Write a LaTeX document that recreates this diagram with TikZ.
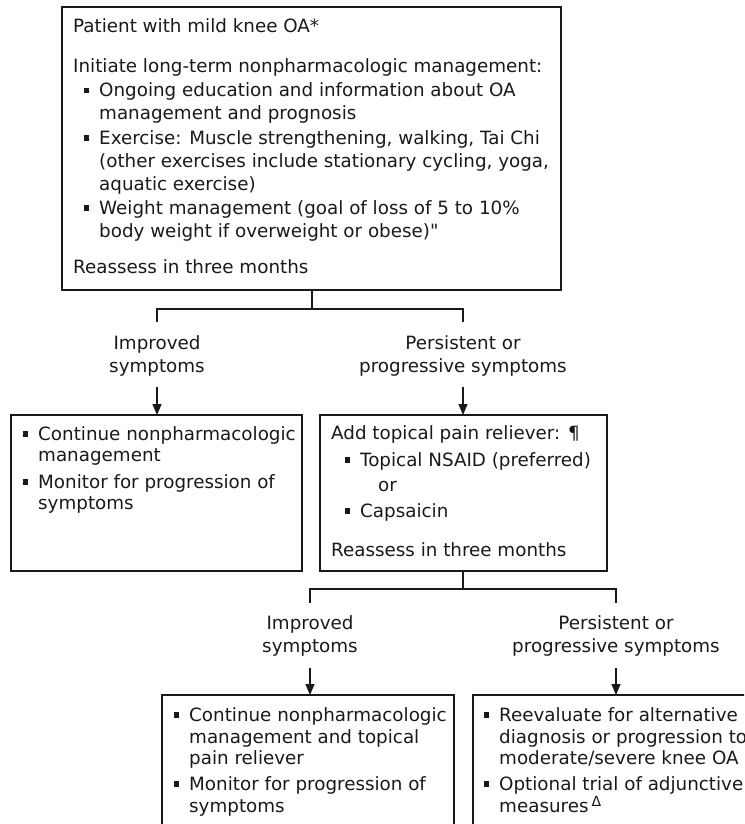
\documentclass[tikz,border=0pt]{standalone}
\usepackage{fontspec}
\setmainfont{DejaVu Sans}[Ligatures=TeXOff]
\usetikzlibrary{arrows.meta}
\newcommand\bul{\llap{\rule[3.5pt]{5.5pt}{5.5pt}\hspace{10pt}}}
\begin{document}
\begin{tikzpicture}[x=1pt,y=-1pt,
  box/.style={draw=black!90, line width=1.3pt, inner sep=0pt, outer sep=0pt, anchor=north west},
  txt/.style={anchor=base west, inner sep=0pt, text=black!90, font=\fontsize{18.3}{22}\selectfont},
  lbl/.style={anchor=base, inner sep=0pt, text=black!90, font=\fontsize{18.3}{22}\selectfont},
  link/.style={draw=black!90, line width=1.3pt},
  arr/.style={draw=black!90, line width=1.3pt, -{Triangle[length=11pt,width=9pt]}}]
\useasboundingbox (0,0) rectangle (744,824);
\clip (0,0) rectangle (744,824);

% boxes
\node[box, minimum width=499pt, minimum height=283pt] (b1) at (62,7) {};
\node[box, minimum width=291pt, minimum height=156pt] (b2) at (11,415) {};
\node[box, minimum width=287pt, minimum height=156pt] (b3) at (320,415) {};
\node[box, minimum width=292pt, minimum height=160pt] (b4) at (162,695) {};
\node[box, minimum width=286pt, minimum height=160pt] (b5) at (473,695) {};

% top box text
\node[txt] (t1) at (73,33) {Patient with mild knee OA*};
\node[txt] (t2) at (73,73) {Initiate long-term nonpharmacologic management:};
\node[txt] (t3) at (99,97) {\bul Ongoing education and information about OA};
\node[txt] (t4) at (99,120) {management and prognosis};
\node[txt] (t5) at (99,144) {\bul Exercise: Muscle strengthening, walking, Tai Chi};
\node[txt] (t6) at (99,167) {(other exercises include stationary cycling, yoga,};
\node[txt] (t7) at (99,190) {aquatic exercise)};
\node[txt] (t8) at (99,214) {\bul Weight management (goal of loss of 5 to 10\%};
\node[txt] (t9) at (99,237) {body weight if overweight or obese)"};
\node[txt] (t10) at (73,273) {Reassess in three months};

% first branch labels
\node[lbl] (i1a) at (157,349) {Improved};
\node[lbl] (i1b) at (157,372) {symptoms};
\node[lbl] (p1a) at (463,349) {Persistent or};
\node[lbl] (p1b) at (463,372) {progressive symptoms};

% left box text
\node[txt] (u1) at (38,440) {\bul Continue nonpharmacologic};
\node[txt] (u2) at (38,461) {management};
\node[txt] (u3) at (38,488) {\bul Monitor for progression of};
\node[txt] (u4) at (38,509) {symptoms};

% middle box text
\node[txt] (m1) at (331,439) {Add topical pain reliever: ¶};
\node[txt] (m2) at (360,466) {\bul Topical NSAID (preferred)};
\node[txt] (m3) at (378,491) {or};
\node[txt] (m4) at (360,517) {\bul Capsaicin};
\node[txt] (m5) at (331,556) {Reassess in three months};

% second branch labels
\node[lbl] (i2a) at (310,629) {Improved};
\node[lbl] (i2b) at (310,652) {symptoms};
\node[lbl] (p2a) at (616,629) {Persistent or};
\node[lbl] (p2b) at (616,652) {progressive symptoms};

% lower-left box text
\node[txt] (v1) at (189,721) {\bul Continue nonpharmacologic};
\node[txt] (v2) at (189,743) {management and topical};
\node[txt] (v3) at (189,764) {pain reliever};
\node[txt] (v4) at (189,790) {\bul Monitor for progression of};
\node[txt] (v5) at (189,812) {symptoms};

% lower-right box text
\node[txt] (w1) at (499,721) {\bul Reevaluate for alternative};
\node[txt] (w2) at (499,743) {diagnosis or progression to};
\node[txt] (w3) at (499,764) {moderate/severe knee OA};
\node[txt] (w4) at (499,790) {\bul Optional trial of adjunctive};
\node[txt] (w5) at (499,812) {measures\,\raisebox{6pt}{\fontsize{14}{14}\selectfont Δ}};

% connectors, first branch
\coordinate (j1) at (312,309);
\coordinate (l1) at (157,322);
\coordinate (r1) at (463,322);
\coordinate (a1) at (157,387);
\coordinate (a2) at (463,387);
\draw[link] (b1.south -| j1) -- (j1);
\draw[link] (l1) -- (l1 |- j1) -- (r1 |- j1) -- (r1);
\draw[arr] (a1) -- (a1 |- b2.north);
\draw[arr] (a2) -- (a2 |- b3.north);

% connectors, second branch
\coordinate (j2) at (463,589);
\coordinate (l2) at (310,603);
\coordinate (r2) at (616,603);
\coordinate (a3) at (310,668);
\coordinate (a4) at (616,668);
\draw[link] (b3.south -| j2) -- (j2);
\draw[link] (l2) -- (l2 |- j2) -- (r2 |- j2) -- (r2);
\draw[arr] (a3) -- (a3 |- b4.north);
\draw[arr] (a4) -- (a4 |- b5.north);
\end{tikzpicture}
\end{document}
